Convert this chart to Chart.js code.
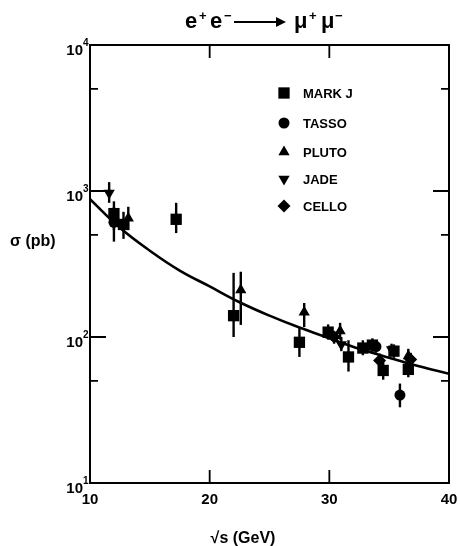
<!DOCTYPE html>
<html><head><meta charset="utf-8">
<script src="https://cdn.jsdelivr.net/npm/chart.js@4/dist/chart.umd.min.js"></script>
<style>html,body{margin:0;padding:0;background:#fff}</style>
</head><body>
<canvas id="c" width="460" height="546"></canvas>
<script>
// ---- data ----
const markJ_x  = [12.0, 12.8, 17.2, 22.0, 27.5, 29.9, 31.6, 32.8, 33.6, 34.5, 35.4, 36.6];
const markJ_y  = [700, 590, 640, 140, 92, 108, 73, 84, 88, 59, 80, 60];
const markJ_lo = [540, 470, 515, 100, 73, 96, 58, 75, 79, 51, 72, 53];
const markJ_hi = [850, 720, 830, 275, 115, 122, 95, 95, 98, 68, 89, 70];

const tasso_x  = [12.0, 33.9, 35.9];
const tasso_y  = [610, 86, 40];
const tasso_lo = [450, 78, 33];
const tasso_hi = [780, 95, 48];

const pluto_x  = [13.2, 22.6, 27.9, 30.9, 36.6];
const pluto_y  = [650, 210, 148, 110, 74];
const pluto_lo = [540, 121, 117, 96, 65];
const pluto_hi = [780, 280, 171, 125, 83];

const jade_x  = [11.6, 31.0, 35.2];
const jade_y  = [970, 89, 82];
const jade_lo = [830, 80, 74];
const jade_hi = [1150, 100, 90];

const cello_x  = [30.4, 34.2, 36.8];
const cello_y  = [100, 69, 70];
const cello_lo = [90, 62, 63];
const cello_hi = [110, 77, 78];

const qed_x = [10, 12.5, 15, 17.5, 20, 22.5, 25, 27.5, 30, 32.5, 35, 37.5, 40];
const qed_y = [880, 560, 390, 285, 222, 173, 140, 116, 98, 83, 72, 63, 56];

const xTicks = [10, 20, 30, 40];
const yMajor = [10, 100, 1000, 10000];
const yMinor = [50, 500, 5000];
const yExp   = ['1', '2', '3', '4'];
const xInner = [20, 30];

const pts = (xs, ys) => xs.map((x, i) => ({x: x, y: ys[i]}));

const series = [
  {label: 'MARK J', x: markJ_x, y: markJ_y, lo: markJ_lo, hi: markJ_hi, style: 'rect', r: 8, rot: 0},
  {label: 'TASSO', x: tasso_x, y: tasso_y, lo: tasso_lo, hi: tasso_hi, style: 'circle', r: 5.5, rot: 0},
  {label: 'PLUTO', x: pluto_x, y: pluto_y, lo: pluto_lo, hi: pluto_hi, style: 'triangle', r: 6.5, rot: 0},
  {label: 'JADE', x: jade_x, y: jade_y, lo: jade_lo, hi: jade_hi, style: 'triangle', r: 6.5, rot: 180},
  {label: 'CELLO', x: cello_x, y: cello_y, lo: cello_lo, hi: cello_hi, style: 'rectRot', r: 6.5, rot: 0}
];

const datasets = series.map(s => ({
  type: 'scatter', label: s.label, data: pts(s.x, s.y),
  pointStyle: s.style, pointRadius: s.r, pointRotation: s.rot,
  backgroundColor: '#000', borderColor: '#000', borderWidth: 0,
  errLo: s.lo, errHi: s.hi, order: 1
}));
datasets.push({
  type: 'line', label: 'QED', data: pts(qed_x, qed_y),
  borderColor: '#000', borderWidth: 2.6, pointRadius: 0, tension: 0.4,
  fill: false, order: 2
});

const FONT = '"Liberation Sans", Arial, sans-serif';

function drawMarker(ctx, style, r, rot, x, y) {
  ctx.save();
  ctx.fillStyle = '#000';
  ctx.beginPath();
  if (style === 'rect') {
    const h = Math.SQRT1_2 * r;
    ctx.rect(x - h, y - h, 2 * h, 2 * h);
  } else if (style === 'circle') {
    ctx.arc(x, y, r, 0, Math.PI * 2);
  } else if (style === 'triangle') {
    let a = rot * Math.PI / 180;
    ctx.moveTo(x + Math.sin(a) * r, y - Math.cos(a) * r);
    a += 2 * Math.PI / 3;
    ctx.lineTo(x + Math.sin(a) * r, y - Math.cos(a) * r);
    a += 2 * Math.PI / 3;
    ctx.lineTo(x + Math.sin(a) * r, y - Math.cos(a) * r);
    ctx.closePath();
  } else if (style === 'rectRot') {
    ctx.moveTo(x, y - r); ctx.lineTo(x + r, y); ctx.lineTo(x, y + r); ctx.lineTo(x - r, y); ctx.closePath();
  }
  ctx.fill();
  ctx.restore();
}

const decor = {
  id: 'decor',
  beforeDatasetsDraw(chart) {
    const ctx = chart.ctx, xs = chart.scales.x, ys = chart.scales.y;
    ctx.save();
    ctx.strokeStyle = '#000';
    ctx.lineWidth = 2.4;
    chart.data.datasets.forEach(ds => {
      if (!ds.errLo) return;
      ds.data.forEach((p, i) => {
        const px = xs.getPixelForValue(p.x);
        ctx.beginPath();
        ctx.moveTo(px, ys.getPixelForValue(ds.errLo[i]));
        ctx.lineTo(px, ys.getPixelForValue(ds.errHi[i]));
        ctx.stroke();
      });
    });
    ctx.restore();
  },
  afterDraw(chart) {
    const ctx = chart.ctx, a = chart.chartArea, xs = chart.scales.x, ys = chart.scales.y;
    ctx.save();
    ctx.strokeStyle = '#000';
    ctx.fillStyle = '#000';
    ctx.lineWidth = 2;
    // frame
    ctx.strokeRect(a.left, a.top, a.right - a.left, a.bottom - a.top);
    // y ticks (inward, both sides)
    ctx.lineWidth = 1.8;
    yMajor.forEach(v => {
      const py = ys.getPixelForValue(v);
      ctx.beginPath();
      ctx.moveTo(a.left, py); ctx.lineTo(a.left + 16, py);
      ctx.moveTo(a.right, py); ctx.lineTo(a.right - 16, py);
      ctx.stroke();
    });
    yMinor.forEach(v => {
      const py = ys.getPixelForValue(v);
      ctx.beginPath();
      ctx.moveTo(a.left, py); ctx.lineTo(a.left + 8, py);
      ctx.moveTo(a.right, py); ctx.lineTo(a.right - 8, py);
      ctx.stroke();
    });
    xInner.forEach(v => {
      const px = xs.getPixelForValue(v);
      ctx.beginPath();
      ctx.moveTo(px, a.bottom); ctx.lineTo(px, a.bottom - 13);
      ctx.moveTo(px, a.top); ctx.lineTo(px, a.top + 13);
      ctx.stroke();
    });
    // x tick labels
    ctx.font = 'bold 15px ' + FONT;
    ctx.textAlign = 'center';
    ctx.textBaseline = 'alphabetic';
    xTicks.forEach(v => {
      ctx.fillText(String(v), xs.getPixelForValue(v), 504);
    });
    // y tick labels 10^n
    yMajor.forEach((v, i) => {
      const py = ys.getPixelForValue(v);
      ctx.font = 'bold 15px ' + FONT;
      ctx.textAlign = 'right';
      ctx.textBaseline = 'alphabetic';
      ctx.fillText('10', 83, py + 10);
      ctx.font = 'bold 10px ' + FONT;
      ctx.textAlign = 'left';
      ctx.fillText(yExp[i], 83, py + 1);
    });
    // title e+e- --> mu+mu-
    ctx.textAlign = 'left';
    ctx.textBaseline = 'alphabetic';
    ctx.font = 'bold 22px ' + FONT;
    ctx.fillText('e', 185, 28);
    ctx.fillText('e', 210, 28);
    ctx.fillText('\u03BC', 294, 28);
    ctx.fillText('\u03BC', 321, 28);
    ctx.font = 'bold 13px ' + FONT;
    ctx.fillText('+', 199, 20);
    ctx.fillText('\u2212', 224, 20);
    ctx.fillText('+', 309, 20);
    ctx.fillText('\u2212', 335, 20);
    ctx.lineWidth = 2;
    ctx.beginPath(); ctx.moveTo(234, 22); ctx.lineTo(280, 22); ctx.stroke();
    ctx.beginPath(); ctx.moveTo(286, 22); ctx.lineTo(276, 17); ctx.lineTo(276, 27); ctx.closePath(); ctx.fill();
    // axis titles
    ctx.font = 'bold 16px ' + FONT;
    ctx.textAlign = 'left';
    ctx.fillText('\u03C3 (pb)', 10, 246);
    ctx.textAlign = 'center';
    ctx.fillText('\u221As (GeV)', 243, 543);
    // legend
    ctx.font = 'bold 13px ' + FONT;
    ctx.textAlign = 'left';
    ctx.textBaseline = 'middle';
    const ly = [93, 123, 152, 179, 206];
    series.forEach((s, i) => {
      drawMarker(ctx, s.style, s.r, s.rot, 284, ly[i]);
      ctx.fillText(s.label, 303, ly[i] + 1);
    });
    ctx.restore();
  }
};

new Chart(document.getElementById('c'), {
  data: {datasets: datasets},
  options: {
    responsive: false, animation: false, devicePixelRatio: 1,
    layout: {padding: {top: 45, right: 11, left: 0, bottom: 0}},
    plugins: {legend: {display: false}, tooltip: {enabled: false}, title: {display: false}},
    scales: {
      x: {
        type: 'linear', min: 10, max: 40,
        ticks: {display: false},
        grid: {display: false}, border: {display: false},
        afterFit: s => { s.height = 63; }
      },
      y: {
        type: 'logarithmic', min: 10, max: 10000,
        ticks: {display: false},
        grid: {display: false}, border: {display: false},
        afterFit: s => { s.width = 90; }
      }
    }
  },
  plugins: [decor]
});
</script>
</body></html>
